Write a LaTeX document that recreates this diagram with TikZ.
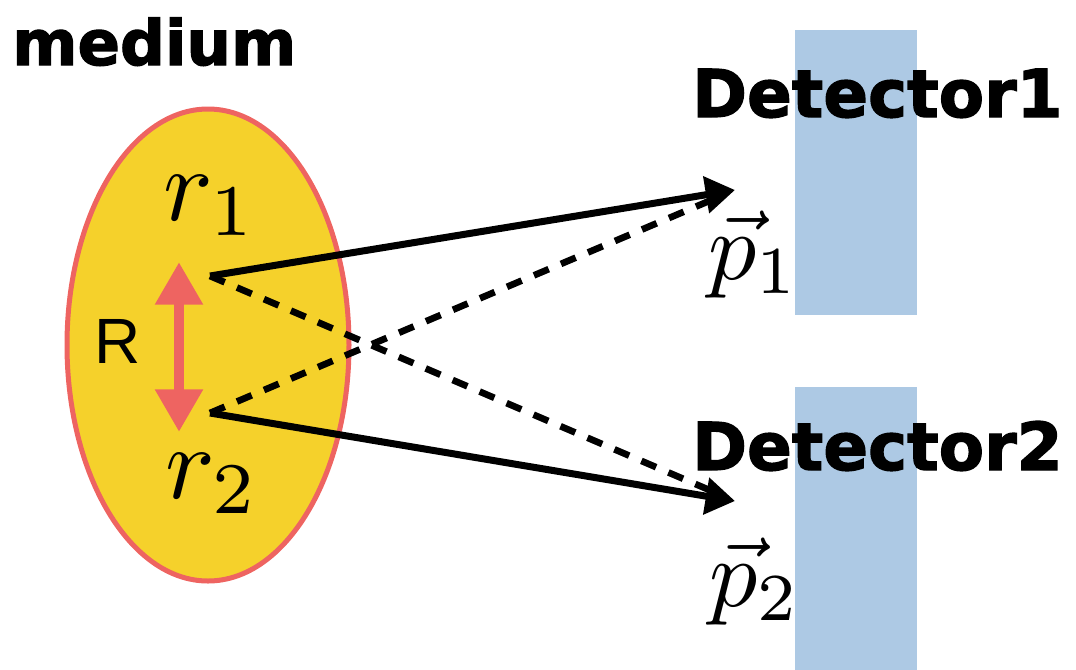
\documentclass[tikz,border=0pt]{standalone}
\usepackage{graphicx}
\usepackage{fontspec}
\newfontfamily\heavyfont{DejaVu Sans}[BoldFeatures={FakeBold=2}]
\newfontfamily\labelfont{Liberation Sans}
\usetikzlibrary{arrows.meta,shapes.geometric}

\definecolor{mediumyellow}{HTML}{F5D12B}
\definecolor{mediumred}{HTML}{EE6461}
\definecolor{detblue}{HTML}{ADC9E4}

\begin{document}
\begin{tikzpicture}[
    x=0.75pt, y=-0.75pt,
    medium/.style={ellipse, draw=mediumred, fill=mediumyellow, line width=3.75pt, minimum width=211.5pt, minimum height=354pt, inner sep=0pt},
    detbox/.style={fill=detblue, minimum width=91.5pt, minimum height=#1, inner sep=0pt},
    title/.style={anchor=base west, inner sep=0pt, font=\heavyfont\bfseries\fontsize{#1}{#1}\selectfont},
    title/.default=49.5,
    mathlabel/.style={anchor=base, inner sep=0pt, font=\fontsize{10}{10}\selectfont},
    track/.style={line width=5.25pt, -{Triangle[length=22pt,width=27pt]}},
    ghost/.style={line width=5pt, dash pattern=on 12pt off 10pt, shorten >=14pt},
    sep/.style={line width=8pt, mediumred, {Triangle[length=32pt,width=34pt]}-{Triangle[length=32pt,width=34pt]}}
]
\useasboundingbox (0,0) rectangle (1076,669);

% Detectors
\node[detbox=213.75pt] (det1) at (856,172.5) {};
\node[detbox=225pt] (det2) at (856,537) {};

% Medium
\node[medium] (med) at (208,345) {};

% Points and tips
\coordinate (src1) at (210,276);
\coordinate (src2) at (210,413);
\coordinate (tip1) at (735,190);
\coordinate (tip2) at (735,501);
\coordinate (septop) at (179,262);
\coordinate (sepbot) at (179,432);

% Separation
\draw[sep] (septop) -- (sepbot);

% Tracks
\draw[ghost] (src1) -- (tip2);
\draw[ghost] (src2) -- (tip1);
\draw[track] (src1) -- (tip1);
\draw[track] (src2) -- (tip2);

% Labels
\node[title=47] (medlabel) at (12,65) {medium};
\node[title] (det1label) at (692,117) {Detector1};
\node[title] (det2label) at (692,470) {Detector2};
\node[anchor=base west, inner sep=0pt, font=\labelfont\fontsize{48}{48}\selectfont] (rlabel) at (94,363) {R};
\node[mathlabel] (r1) at (210,220) {\scalebox{7.8}{$r_1$}};
\node[mathlabel] (r2) at (212,498) {\scalebox{7.8}{$r_2$}};
\node[mathlabel] (p1) at (754,279) {\scalebox{7.2}{$\vec{p}_1$}};
\node[mathlabel] (p2) at (755,606) {\scalebox{7.2}{$\vec{p}_2$}};
\end{tikzpicture}
\end{document}
